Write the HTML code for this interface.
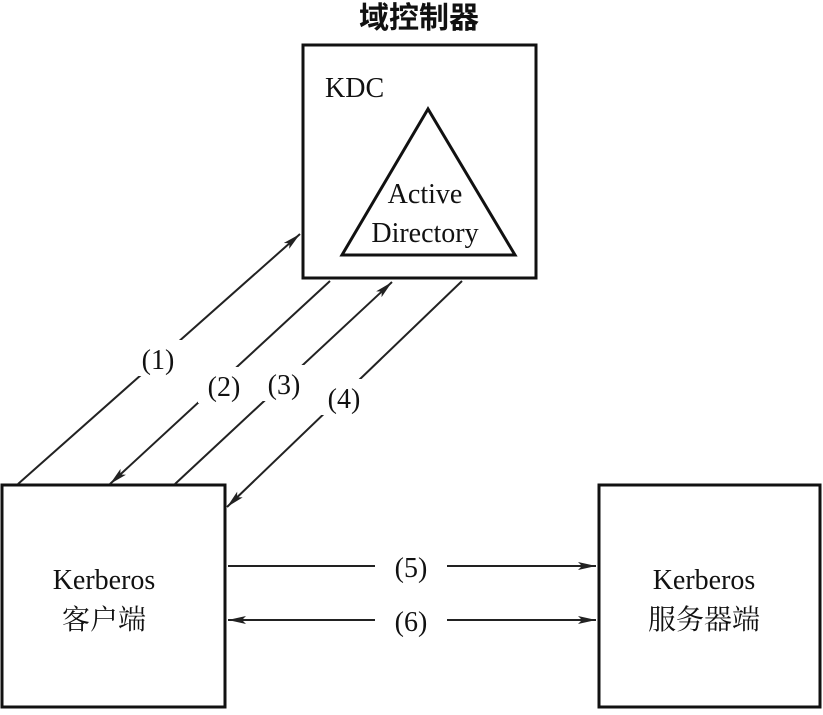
<!DOCTYPE html>
<html><head><style>body{margin:0;background:#fff}</style></head><body>
<svg width="823" height="710" xmlns="http://www.w3.org/2000/svg" font-family="'Liberation Serif','Noto Serif CJK SC',serif" fill="#111">
<defs><marker id="a" viewBox="0 0 18 8" refX="18" refY="4" markerWidth="18" markerHeight="8" orient="auto-start-reverse" markerUnits="userSpaceOnUse"><path d="M0,0 L18,4 L0,8 L4,4z" fill="#222"/></marker></defs>
<text x="419" y="28" font-size="30" text-anchor="middle" font-family="'Noto Sans CJK SC',sans-serif" font-weight="bold">域控制器</text>
<rect x="303" y="45" width="233" height="233" fill="none" stroke="#111" stroke-width="3"/>
<text x="325" y="97" font-size="28">KDC</text>
<polygon points="428,109 342,255 515,255" fill="none" stroke="#111" stroke-width="3"/>
<text x="425" y="203" font-size="28" text-anchor="middle">Active</text>
<text x="425" y="242" font-size="28" text-anchor="middle">Directory</text>
<rect x="2" y="485" width="223" height="222" fill="none" stroke="#111" stroke-width="3"/>
<rect x="599" y="485" width="221" height="222" fill="none" stroke="#111" stroke-width="3"/>
<g stroke="#222" stroke-width="2" fill="none">
<line x1="18" y1="484" x2="300" y2="234" marker-end="url(#a)"/>
<line x1="330" y1="281" x2="110" y2="484" marker-end="url(#a)"/>
<line x1="175" y1="484" x2="392" y2="282" marker-end="url(#a)"/>
<line x1="462" y1="281" x2="227" y2="507" marker-end="url(#a)"/>
<line x1="228" y1="566" x2="596" y2="566" marker-end="url(#a)"/>
<line x1="228" y1="620" x2="596" y2="620" marker-start="url(#a)" marker-end="url(#a)"/>
</g>
<g fill="#fff"><rect x="132" y="340" width="52" height="36"/><rect x="198" y="367" width="52" height="36"/><rect x="258" y="365" width="52" height="36"/><rect x="318" y="379" width="52" height="36"/><rect x="375" y="548" width="72" height="36"/><rect x="375" y="602" width="72" height="36"/></g>
<g font-size="28" text-anchor="middle">
<text x="158" y="369">(1)</text><text x="224" y="396">(2)</text><text x="284" y="394">(3)</text><text x="344" y="408">(4)</text>
<text x="411" y="577">(5)</text><text x="411" y="631">(6)</text>
<text x="104" y="589">Kerberos</text>
<text x="104" y="629">客户端</text>
<text x="704" y="589">Kerberos</text>
<text x="704" y="629">服务器端</text>
</g>
</svg>
</body></html>
